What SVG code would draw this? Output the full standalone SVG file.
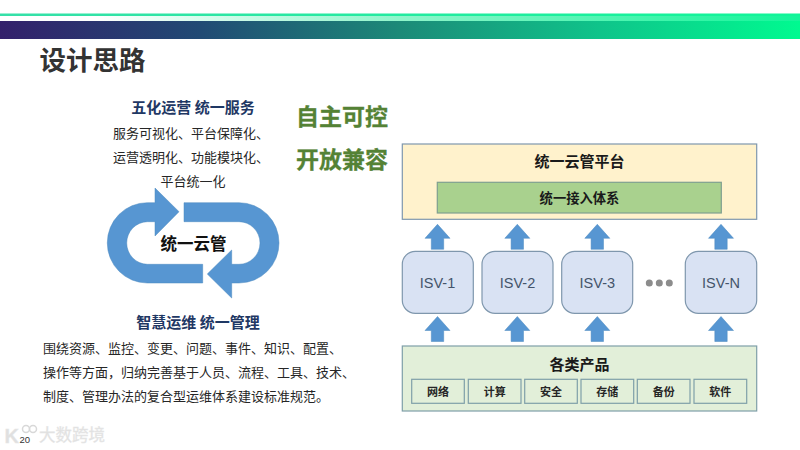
<svg xmlns="http://www.w3.org/2000/svg" width="800" height="450" viewBox="0 0 800 450">
<defs>
<linearGradient id="band" x1="0" y1="0" x2="1" y2="0"><stop offset="0" stop-color="#33206b"/><stop offset="0.25" stop-color="#214a74"/><stop offset="0.5" stop-color="#1c8a78"/><stop offset="0.75" stop-color="#0fc48a"/><stop offset="1" stop-color="#00fa90"/></linearGradient>
<linearGradient id="mint" x1="0" y1="0" x2="1" y2="0"><stop offset="0.12" stop-color="#ffffff"/><stop offset="0.5" stop-color="#8ff5cb"/><stop offset="1" stop-color="#14f59a"/></linearGradient>
<linearGradient id="line" x1="0" y1="0" x2="1" y2="0"><stop offset="0" stop-color="#35e0a8"/><stop offset="1" stop-color="#10f598"/></linearGradient>
<path id="up" d="M0 0L12.500 14L6.200 14L6.200 25L-6.200 25L-6.200 14L-12.500 14Z"/>
</defs>
<style>
text{font-family:"Liberation Sans","Noto Sans CJK SC",sans-serif}
.cjk{font-family:"Noto Sans CJK SC","Liberation Sans",sans-serif}
.c{text-anchor:middle}
.b{font-weight:700}
.ar{fill:#5796d2;stroke:#4a88bf;stroke-width:.5}
.isv{fill:#d9e2f3;stroke:#7f97ad;stroke-width:1.200}
.sub{fill:#e2efd9;stroke:#7f9fa8;stroke-width:1.200}
.body{font-size:13px;fill:#262626}
.sm{font-size:11px;fill:#262626;font-weight:700}
.isvt{font-size:14.500px;fill:#44546a}
.green{font-size:23px;fill:#548235;font-weight:700;stroke:#548235;stroke-width:.3}
.wm{fill:#e0e0e0;stroke:#e8e8e8;stroke-width:.4}
</style>
<rect width="800" height="450" fill="#fff"/>
<rect x="0" y="16" width="800" height="5" fill="url(#mint)"/>
<rect x="0" y="13.500" width="800" height="2.500" fill="url(#line)"/>
<rect x="0" y="21" width="800" height="18" fill="url(#band)"/>
<text class="cjk b" x="39.500" y="69.500" font-size="26.500" fill="#333">设计思路</text>

<g id="top-text">
<text class="cjk b c" x="193" y="113" font-size="15" fill="#1f3864">五化运营 统一服务</text>
<text class="cjk body" x="113" y="137.500">服务可视化、平台保障化、</text>
<text class="cjk body" x="113" y="161.500">运营透明化、功能模块化、</text>
<text class="cjk c body" x="193" y="185.500">平台统一化</text>
</g>
<g id="slogan">
<text class="cjk green" x="296" y="125">自主可控</text>
<text class="cjk green" x="296" y="167.500">开放兼容</text>
</g>
<g id="loop">
<path class="ar" d="M155 188L179 211.700L155 236L155 221.700L147.300 221.700A21 21.300 0 0 0 126.700 243A21 21.300 0 0 0 147.300 264.300L202.700 264.300L202.700 283L147.300 283A40 40.150 0 0 1 107.300 243A40 40.150 0 0 1 147.300 202.700L155 202.700Z"/>
<path class="ar" d="M184 202.700L239 202.700A40 40.150 0 0 1 279 243A40 40.150 0 0 1 239 283L231.700 283L231.700 298L207.300 274L231.700 250L231.700 264.300L239 264.300A21 21.300 0 0 0 260 243A21 21.300 0 0 0 239 221.700L184 221.700Z"/>
<text class="cjk b c" x="193.500" y="250" font-size="16.500" fill="#111">统一云管</text>
</g>
<g id="bottom-text">
<text class="cjk b c" x="198" y="328" font-size="15" fill="#1f3864">智慧运维 统一管理</text>
<text class="cjk body" x="43" y="352.500">围绕资源、监控、变更、问题、事件、知识、配置、</text>
<text class="cjk body" x="43" y="376.500">操作等方面，归纳完善基于人员、流程、工具、技术、</text>
<text class="cjk body" x="43" y="400.500">制度、管理办法的复合型运维体系建设标准规范。</text>
</g>
<g id="platform">
<rect x="402.300" y="144" width="354.400" height="75.300" fill="#fff2cc" stroke="#7f97ad" stroke-width="1.200"/>
<text class="cjk b c" x="579.500" y="166.500" font-size="15" fill="#1a1a1a">统一云管平台</text>
</g>
<g id="access">
<rect x="437.300" y="182.300" width="284" height="30.700" fill="#a9d18e" stroke="#7f9f90" stroke-width="1.200"/>
<text class="cjk b c" x="579.500" y="203" font-size="13.300" fill="#1a1a1a">统一接入体系</text>
</g>
<g id="isv1"><rect class="isv" x="402.300" y="251.300" width="71" height="62" rx="13"/><text class="isvt c" x="437.500" y="288">ISV-1</text></g>
<g id="isv2"><rect class="isv" x="482" y="251.300" width="71" height="62" rx="13"/><text class="isvt c" x="517.500" y="288">ISV-2</text></g>
<g id="isv3"><rect class="isv" x="561.700" y="251.300" width="71" height="62" rx="13"/><text class="isvt c" x="597.300" y="288">ISV-3</text></g>
<g id="isvn"><rect class="isv" x="685.300" y="251.300" width="71.400" height="62" rx="13"/><text class="isvt c" x="721" y="288">ISV-N</text></g>
<g id="dots" fill="#8c8c8c"><circle cx="649.300" cy="283" r="3.500"/><circle cx="659.300" cy="283" r="3.500"/><circle cx="669.300" cy="283" r="3.500"/></g>
<g id="connectors">
<use href="#up" class="ar" x="437.500" y="224.300"/>
<use href="#up" class="ar" x="517.300" y="224.300"/>
<use href="#up" class="ar" x="597.300" y="224.300"/>
<use href="#up" class="ar" x="721" y="224.300"/>
<use href="#up" class="ar" x="437.500" y="316.500"/>
<use href="#up" class="ar" x="517.300" y="316.500"/>
<use href="#up" class="ar" x="597.300" y="316.500"/>
<use href="#up" class="ar" x="721" y="316.500"/>
</g>
<g id="products">
<rect x="402.300" y="346" width="354.400" height="65" fill="#e2efd9" stroke="#7f9fa8" stroke-width="1.200"/>
<text class="cjk b c" x="579.500" y="369.500" font-size="15" fill="#1a1a1a">各类产品</text>
</g>
<g id="p1"><rect class="sub" x="411.700" y="379.300" width="52.600" height="24"/><text class="cjk sm c" x="438" y="395.500">网络</text></g>
<g id="p2"><rect class="sub" x="468.300" y="379.300" width="52.700" height="24"/><text class="cjk sm c" x="494.700" y="395.500">计算</text></g>
<g id="p3"><rect class="sub" x="524.700" y="379.300" width="52.600" height="24"/><text class="cjk sm c" x="551" y="395.500">安全</text></g>
<g id="p4"><rect class="sub" x="581" y="379.300" width="52.700" height="24"/><text class="cjk sm c" x="607.300" y="395.500">存储</text></g>
<g id="p5"><rect class="sub" x="637.300" y="379.300" width="52.700" height="24"/><text class="cjk sm c" x="663.700" y="395.500">备份</text></g>
<g id="p6"><rect class="sub" x="694" y="379.300" width="52.700" height="24"/><text class="cjk sm c" x="720.300" y="395.500">软件</text></g>
<g id="watermark">
<text class="b wm" x="4.500" y="443" font-size="20">K</text>
<circle cx="26" cy="429" r="3.500" fill="none" stroke="#d8d8d8" stroke-width="1.500"/>
<circle cx="33" cy="429" r="3.500" fill="none" stroke="#d8d8d8" stroke-width="1.500"/>
<text class="cjk wm" x="39" y="441" font-size="16.500">大数跨境</text>
</g>
<text x="19.500" y="443" font-size="9.500" fill="#333">20</text>
</svg>
